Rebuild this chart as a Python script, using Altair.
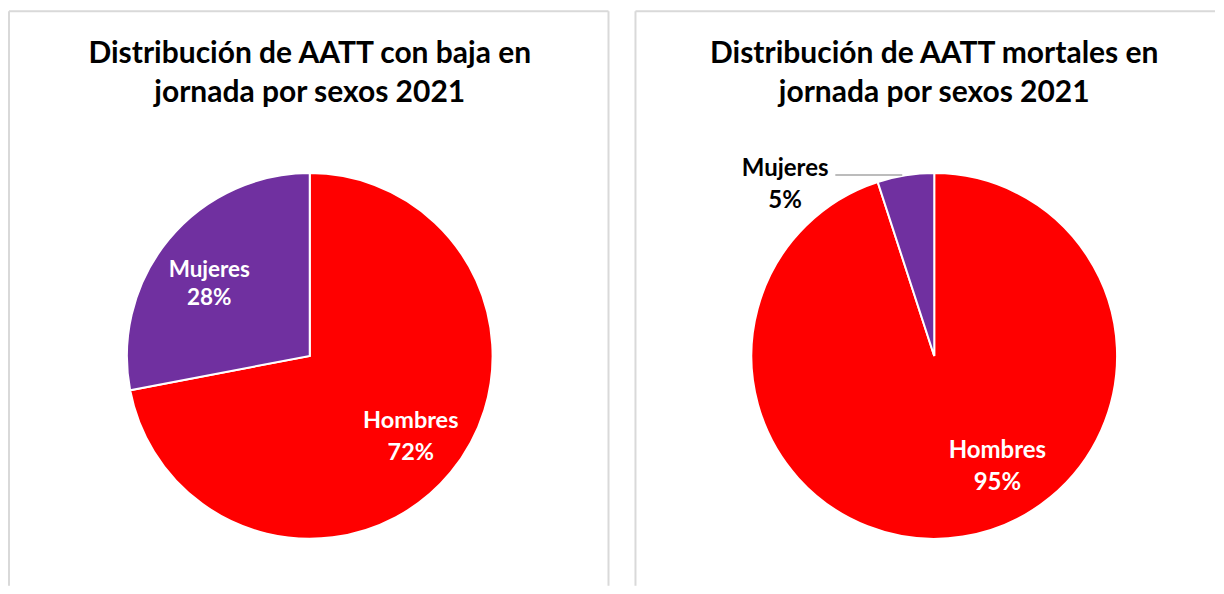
import altair as alt
import pandas as pd

sexes = ["Hombres", "Mujeres"]
baja_pct = [72, 28]
mortal_pct = [95, 5]
titles_left = ["Distribución de AATT con baja en", "jornada por sexos 2021"]
titles_right = ["Distribución de AATT mortales en", "jornada por sexos 2021"]
colors = ["#ff0000", "#7030a0"]

FONT = "Lato"
BORDER = "#d9d9d9"
R = 183


def make_df(vals):
    return pd.DataFrame({
        "sex": sexes,
        "value": vals,
        "idx": list(range(len(sexes))),
        "label": [f"{s}\n{v}%" for s, v in zip(sexes, vals)],
    })


def panel(vals, title_lines, w, h, cx, cy, border_left, border_right, label_specs, leader=None):
    df = make_df(vals)
    base = alt.Chart(df)
    layers = []
    dummy = alt.Chart(pd.DataFrame({"a": [0]}))
    layers.append(dummy.mark_rule(color=BORDER, strokeWidth=2).encode(
        x=alt.value(border_left), y=alt.value(3), y2=alt.value(h)))
    right_edge = border_right if border_right is not None else w
    layers.append(dummy.mark_rule(color=BORDER, strokeWidth=2).encode(
        x=alt.value(border_left), x2=alt.value(right_edge), y=alt.value(3)))
    if border_right is not None:
        layers.append(dummy.mark_rule(color=BORDER, strokeWidth=2).encode(
            x=alt.value(border_right), y=alt.value(3), y2=alt.value(h)))
    tdf = pd.DataFrame({"t": ["\n".join(title_lines)]})
    layers.append(alt.Chart(tdf).mark_text(
        font=FONT, fontSize=30, fontWeight="bold", color="#000000",
        align="center", baseline="alphabetic", lineBreak="\n", lineHeight=39,
    ).encode(text="t:N", x=alt.value(cx), y=alt.value(55)))
    layers.append(base.mark_arc(radius=R, stroke="white", strokeWidth=2).encode(
        theta=alt.Theta("value:Q", stack=True),
        color=alt.Color("sex:N", scale=alt.Scale(domain=sexes, range=colors), legend=None),
        order=alt.Order("idx:Q"),
        x=alt.value(cx), y=alt.value(cy),
    ))
    for sex, r, dx, dy, col, fs, lh in label_specs:
        layers.append(base.mark_text(
            font=FONT, fontSize=fs, fontWeight="bold", color=col,
            align="center", baseline="alphabetic", lineBreak="\n", lineHeight=lh,
            radius=r, dx=dx, dy=dy,
        ).encode(
            theta=alt.Theta("value:Q", stack=True),
            order=alt.Order("idx:Q"),
            text="label:N",
            x=alt.value(cx), y=alt.value(cy),
            opacity=alt.condition(alt.datum.sex == sex, alt.value(1), alt.value(0)),
        ))
    if leader is not None:
        x1, x2, y = leader
        layers.append(dummy.mark_rule(color="#a6a6a6", strokeWidth=1.5).encode(
            x=alt.value(x1), x2=alt.value(x2), y=alt.value(y)))
    return alt.layer(*layers).properties(width=w, height=h)


left = panel(baja_pct, titles_left, 610, 578, 302, 348, 1, 601,
             [("Hombres", 126, 4, -8, "white", 23.5, 32),
              ("Mujeres", 124, -5, 0, "white", 22.5, 28)])
right = panel(mortal_pct, titles_right, 581, 578, 300, 348, 1, None,
              [("Hombres", 110, 46, -7, "white", 24, 33),
               ("Mujeres", 174, -122, -8, "black", 24, 32)],
              leader=(201, 268, 167))

chart = alt.hconcat(left, right, spacing=17).properties(padding=0).configure_view(stroke=None)

chart.save("out.html", embed_options={"renderer": "svg", "actions": False})
